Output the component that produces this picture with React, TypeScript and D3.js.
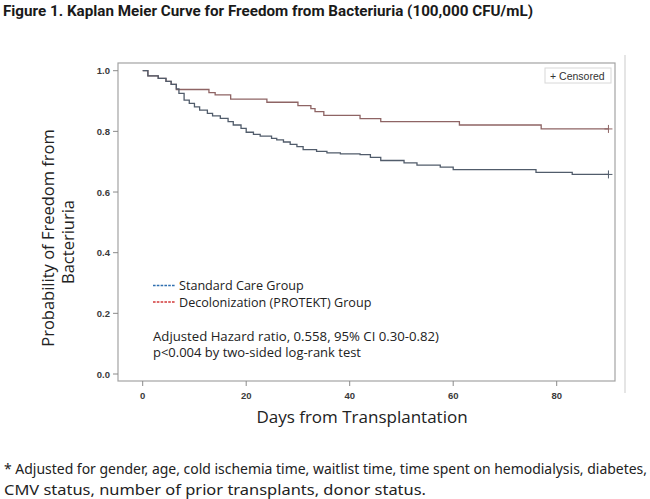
import React from "react";
import * as d3 from "d3";

// Kaplan–Meier step data: day at which survival drops, and the new survival value
const standardDays = [0, 1, 3, 4.5, 5.5, 6.5, 7, 8, 9, 10, 11, 12.5, 13.5, 15, 16.5, 17.5, 19, 20, 21.4, 22.7, 24.9, 25.9, 27.2, 28.5, 29.8, 31, 33.6, 35.6, 38.2, 42, 44, 46, 50.5, 53, 57.5, 60, 76, 83, 90];
const standardSurv = [1.0, 0.983, 0.975, 0.965, 0.955, 0.94, 0.925, 0.903, 0.892, 0.881, 0.87, 0.859, 0.851, 0.843, 0.832, 0.821, 0.81, 0.797, 0.79, 0.784, 0.777, 0.772, 0.765, 0.757, 0.75, 0.74, 0.734, 0.729, 0.726, 0.723, 0.714, 0.704, 0.696, 0.689, 0.682, 0.674, 0.665, 0.658, 0.658];

const decolDays = [0, 1, 3, 4.5, 5.5, 6.5, 12.8, 14, 17, 24, 30, 32.5, 33.3, 35, 42, 46, 61.2, 77, 90];
const decolSurv = [1.0, 0.983, 0.975, 0.965, 0.955, 0.938, 0.928, 0.92, 0.906, 0.896, 0.885, 0.875, 0.865, 0.853, 0.842, 0.832, 0.821, 0.808, 0.808];

const censorDay = 90;

const xTicks = [0, 20, 40, 60, 80];
const yTicks = [0.0, 0.2, 0.4, 0.6, 0.8, 1.0];

const seriesNames = ["Standard Care Group", "Decolonization (PROTEKT) Group"];

const title = "Figure 1. Kaplan Meier Curve for Freedom from Bacteriuria (100,000 CFU/mL)";
const statLines = [
  "Adjusted Hazard ratio, 0.558, 95% CI 0.30-0.82)",
  "p<0.004 by two-sided log-rank test",
];
const footnoteLines = [
  "* Adjusted for gender, age, cold ischemia time, waitlist time, time spent on hemodialysis, diabetes,",
  "CMV status, number of prior transplants, donor status.",
];

const W = 650;
const H = 499;

export default function App() {
  const x = d3.scaleLinear().domain([0, 80]).range([142.7, 556.7]);
  const y = d3.scaleLinear().domain([0, 1]).range([374, 70.7]);

  const frame = { left: 118, right: 615, top: 63, bottom: 381 };

  const line = d3
    .line<[number, number]>()
    .x((d) => x(d[0]))
    .y((d) => y(d[1]))
    .curve(d3.curveStepAfter);

  const standardPts = standardDays.map((d, i) => [d, standardSurv[i]] as [number, number]);
  const decolPts = decolDays.map((d, i) => [d, decolSurv[i]] as [number, number]);

  const blue = "#515c6b";
  const red = "#8e6464";
  const tickFont = "'Liberation Sans', Arial, sans-serif";
  const textFont = "'Open Sans', sans-serif";

  const censor = (day: number, surv: number, color: string, key: string) => (
    <g key={key} stroke={color} strokeWidth={1}>
      <line x1={x(day) - 4} x2={x(day) + 4} y1={y(surv)} y2={y(surv)} />
      <line x1={x(day)} x2={x(day)} y1={y(surv) - 4} y2={y(surv) + 4} />
    </g>
  );

  return (
    <svg
      width={W}
      height={H}
      style={{ position: "absolute", left: 0, top: 0, background: "#fff" }}
    >
      <rect width={W} height={H} fill="#fff" />
      <text
        x={3}
        y={16}
        fontFamily="'Roboto', sans-serif"
        fontWeight={700}
        fontSize={14}
        fill="#1a1a1a"
        textLength={530}
        lengthAdjust="spacingAndGlyphs"
      >
        {title}
      </text>

      {/* outer panel edge */}
      <line x1={625} x2={625} y1={55} y2={393} stroke="#d4d4d4" strokeWidth={1.2} />

      {/* plot frame */}
      <rect
        x={frame.left}
        y={frame.top}
        width={frame.right - frame.left}
        height={frame.bottom - frame.top}
        fill="none"
        stroke="#a3a3a3"
        strokeWidth={1.2}
      />

      {/* y axis */}
      {yTicks.map((t) => (
        <g key={"y" + t}>
          <line x1={frame.left - 5} x2={frame.left} y1={y(t)} y2={y(t)} stroke="#8a8a8a" />
          <text
            x={110}
            y={y(t) + 3.5}
            textAnchor="end"
            fontFamily={tickFont}
            fontWeight={700}
            fontSize={9.5}
            fill="#3a3a3a"
          >
            {t.toFixed(1)}
          </text>
        </g>
      ))}

      {/* x axis */}
      {xTicks.map((t) => (
        <g key={"x" + t}>
          <line x1={x(t)} x2={x(t)} y1={frame.bottom} y2={frame.bottom + 5} stroke="#8a8a8a" />
          <text
            x={x(t)}
            y={399}
            textAnchor="middle"
            fontFamily={tickFont}
            fontWeight={700}
            fontSize={9.5}
            fill="#3a3a3a"
          >
            {t}
          </text>
        </g>
      ))}

      {/* survival curves */}
      <path d={line(decolPts) || ""} fill="none" stroke={red} strokeWidth={1.3} />
      <path d={line(standardPts) || ""} fill="none" stroke={blue} strokeWidth={1.3} />
      {censor(censorDay, decolSurv[decolSurv.length - 1], red, "cr")}
      {censor(censorDay, standardSurv[standardSurv.length - 1], blue, "cb")}

      {/* censored legend */}
      <rect x={545} y={68} width={66} height={15} fill="#fff" stroke="#d8d8d8" />
      <text x={550} y={79.5} fontFamily={tickFont} fontSize={10.5} fill="#333">
        + Censored
      </text>

      {/* group legend */}
      {seriesNames.map((name, i) => (
        <g key={name}>
          <line
            x1={153}
            x2={175}
            y1={285.5 + i * 16.5}
            y2={285.5 + i * 16.5}
            stroke={i === 0 ? "#2f6fb0" : "#d23a3a"}
            strokeWidth={1.3}
            strokeDasharray="2.6,1.2"
          />
          <text x={179} y={290 + i * 16.5} fontFamily={textFont} fontSize={12.6} fill="#222">
            {name}
          </text>
        </g>
      ))}

      {statLines.map((s, i) => (
        <text
          key={s}
          x={153}
          y={340.5 + i * 16.5}
          fontFamily={textFont}
          fontSize={12.4}
          fill="#222"
          textLength={i === 0 ? 286 : 208}
          lengthAdjust="spacingAndGlyphs"
        >
          {s}
        </text>
      ))}

      {/* axis titles */}
      <text
        transform="translate(54,238) rotate(-90)"
        textAnchor="middle"
        fontFamily={textFont}
        fontSize={16.5}
        fill="#222"
      >
        Probability of Freedom from
      </text>
      <text
        transform="translate(74,242) rotate(-90)"
        textAnchor="middle"
        fontFamily={textFont}
        fontSize={16.5}
        fill="#222"
      >
        Bacteriuria
      </text>
      <text
        x={362}
        y={423}
        textAnchor="middle"
        fontFamily={textFont}
        fontSize={17}
        fill="#222"
      >
        Days from Transplantation
      </text>

      {/* footnote */}
      {footnoteLines.map((s, i) => (
        <text
          key={s}
          x={4}
          y={474 + i * 20.5}
          fontFamily="'Noto Sans', sans-serif"
          fontSize={14}
          fill="#222"
          textLength={i === 0 ? 643 : 422}
          lengthAdjust="spacingAndGlyphs"
        >
          {s}
        </text>
      ))}
    </svg>
  );
}
